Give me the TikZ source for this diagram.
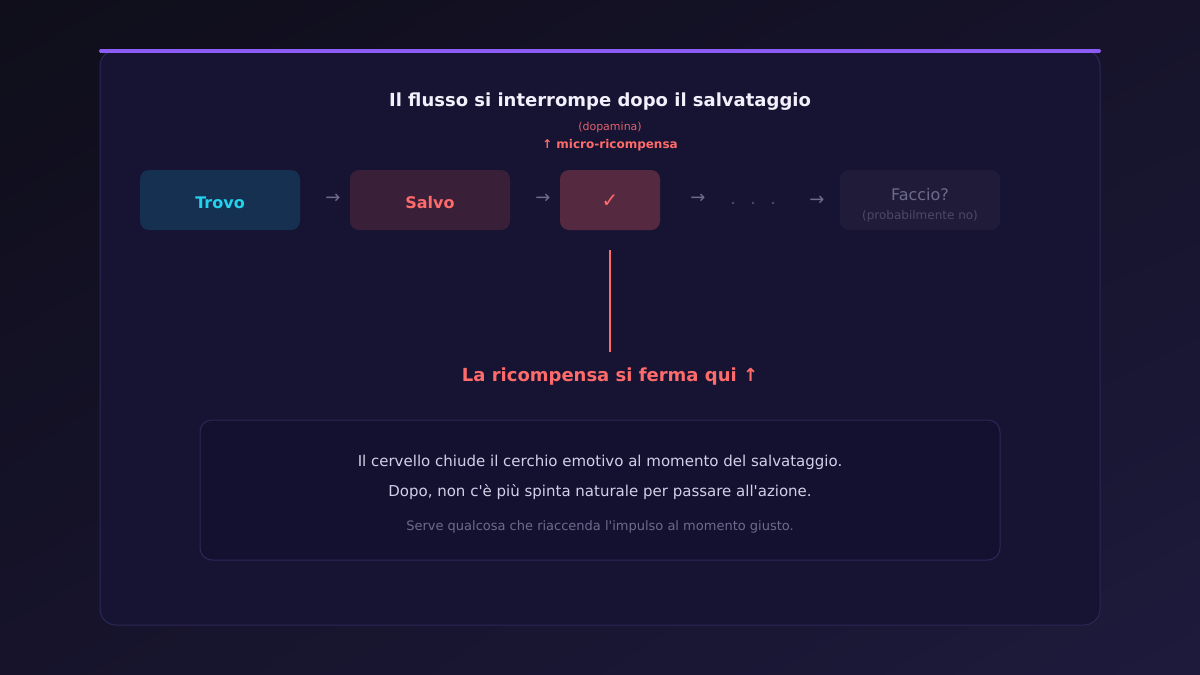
\documentclass[tikz,border=0pt]{standalone}
\usepackage{fontspec}
\setmainfont{DejaVu Sans}
\usetikzlibrary{positioning,shadings}

\definecolor{bgdark}{HTML}{0F0E1A}
\definecolor{bgmid}{HTML}{16132B}
\definecolor{bglight}{HTML}{1D1A3C}
\definecolor{cardfill}{HTML}{171433}
\definecolor{cardline}{HTML}{2C2757}
\definecolor{accent}{HTML}{8B5CF6}
\definecolor{reward}{HTML}{FF6B6B}
\definecolor{rewarddim}{HTML}{E0626C}
\definecolor{findcol}{HTML}{22D3EE}
\definecolor{titletext}{HTML}{F2F0FA}
\definecolor{bodytext}{HTML}{D2CFE8}
\definecolor{muted}{HTML}{6E6A8C}
\definecolor{faint}{HTML}{4C4868}

\tikzset{
  stepbox/.style={rounded corners=9pt, minimum height=60pt, inner sep=0pt,
    text height=16pt, text depth=0pt, font=\fontsize{16}{19}\selectfont\bfseries},
  flowarrow/.style={text=muted, font=\fontsize{18}{21}\selectfont, inner sep=0pt},
  flowdot/.style={circle, fill=faint, inner sep=0pt, minimum size=2.6pt},
  note/.style={text=bodytext, font=\fontsize{15}{18}\selectfont},
}

\begin{document}
\begin{tikzpicture}[x=1pt,y=-1pt]
  \useasboundingbox (0,0) rectangle (1200,675);
  \shade[upper left=bgdark, upper right=bgmid, lower left=bgmid, lower right=bglight]
    (0,0) rectangle (1200,675);

  % card
  \draw[cardline, line width=1pt, fill=cardfill, rounded corners=16pt] (100,50) rectangle (1100,625);
  \draw[accent, line width=4pt, line cap=round] (101,51) -- (1099,51);

  \node[text=titletext, font=\fontsize{18}{22}\selectfont\bfseries] (title) at (600,102)
    {Il flusso si interrompe dopo il salvataggio};
  \node[text=rewarddim, font=\fontsize{11}{13}\selectfont] (dopa) at (610,127) {(dopamina)};
  \node[text=reward, font=\fontsize{12}{14}\selectfont\bfseries] (micro) at (610,145)
    {↑ micro-ricompensa};

  % flow
  \node[stepbox, fill={rgb,255:red,21;green,48;blue,80}, text=findcol, minimum width=160pt]
    (trovo) at (220,200) {Trovo};
  \node[stepbox, fill={rgb,255:red,58;green,31;blue,56}, text=reward, minimum width=160pt]
    (salvo) at (430,200) {Salvo};
  \node[stepbox, fill={rgb,255:red,85;green,42;blue,64}, text=reward, minimum width=100pt,
    text height=14pt, font=\fontsize{20}{24}\selectfont] (check) at (610,200) {✓};
  \node[stepbox, fill={rgb,255:red,31;green,27;blue,56}, minimum width=160pt] (faccio)
    at (920,200) {};
  \node[text=muted, font=\fontsize{16}{19}\selectfont] (faccioq) at (920,195) {Faccio?};
  \node[text=faint, font=\fontsize{12}{14}\selectfont] (faccion) at (920,216)
    {(probabilmente no)};

  \node[flowarrow] (a1) at (333,199) {→};
  \node[flowarrow] (a2) at (543,199) {→};
  \node[flowarrow] (a3) at (698,199) {→};
  \node[flowarrow] (a4) at (817,201) {→};
  \foreach \x/\n in {733/1,753/2,773/3} {
    \node[flowdot] (dot\n) at (\x,203) {};
  }

  \node[text=reward, font=\fontsize{18}{22}\selectfont\bfseries] (stop) at (610,377)
    {La ricompensa si ferma qui ↑};
  \draw[reward, line width=2pt, shorten <=20pt, shorten >=13pt]
    (check.south) -- (check.south |- stop.north);

  % explanation
  \draw[cardline, line width=1pt, fill={rgb,255:red,20;green,17;blue,48}, rounded corners=12pt]
    (200,420) rectangle (1000,560);
  \node[note] (line1) at (600,462) {Il cervello chiude il cerchio emotivo al momento del salvataggio.};
  \node[note] (line2) at (600,492) {Dopo, non c\textquotesingle è più spinta naturale per passare all\textquotesingle azione.};
  \node[note, text=muted, font=\fontsize{13}{16}\selectfont] (line3) at (600,527)
    {Serve qualcosa che riaccenda l\textquotesingle impulso al momento giusto.};
\end{tikzpicture}
\end{document}
